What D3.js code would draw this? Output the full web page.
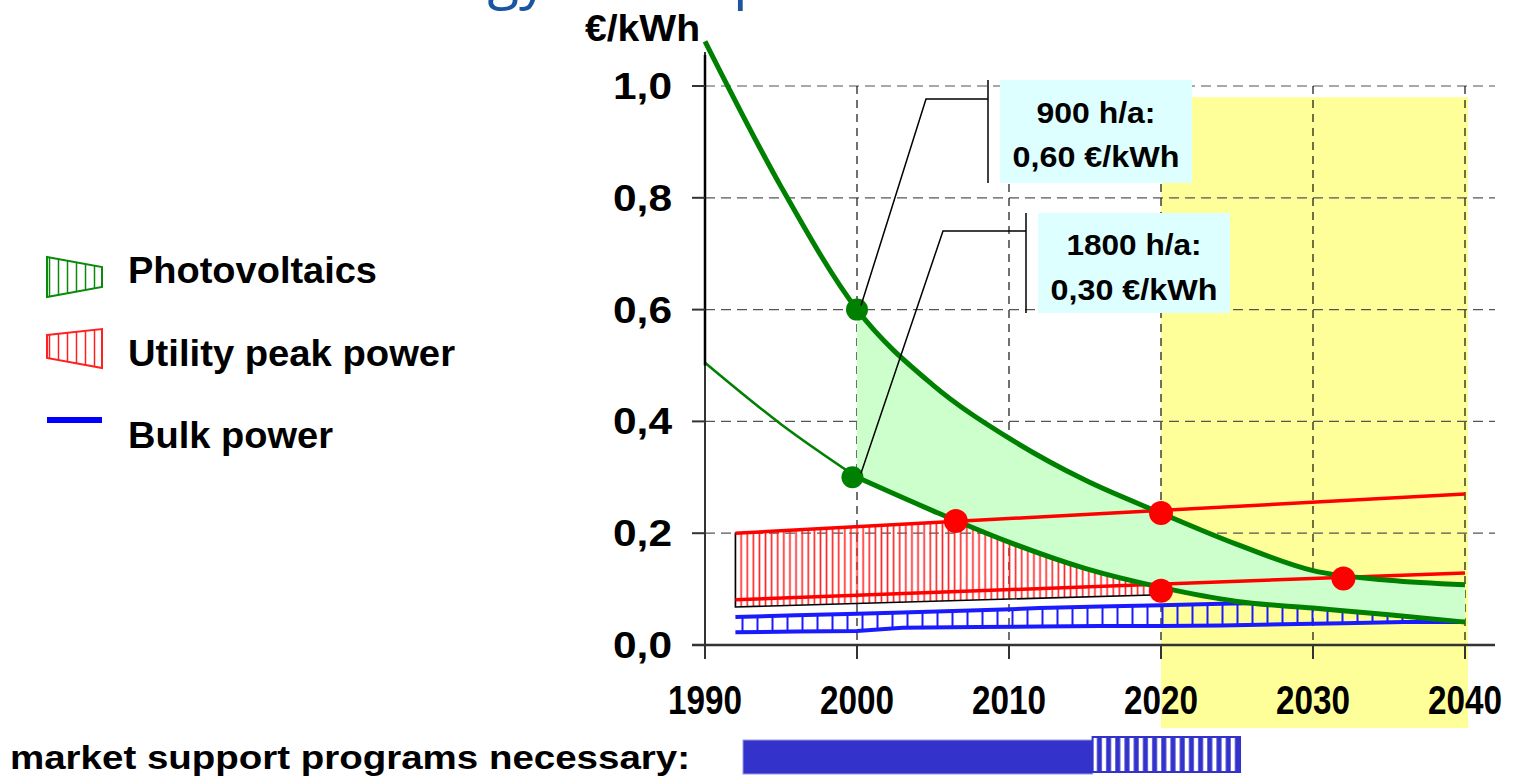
<!DOCTYPE html>
<html>
<head>
<meta charset="utf-8">
<script src="https://cdn.jsdelivr.net/npm/d3@7"></script>
<style>
  body { margin: 0; background: #fff; }
  #chart { width: 1516px; height: 777px; }
  text { font-family: "Liberation Sans", Arial, sans-serif; font-weight: bold; }
</style>
</head>
<body>
<div id="chart"></div>
<script>

/*
DATA
cost of electricity in €/kWh
*/
const years = [1990, 1995, 2000, 2005, 2010, 2015, 2020, 2025, 2030, 2035, 2040];
const pv900 = [1.08, 0.82, 0.60, 0.465, 0.37, 0.295, 0.236, 0.18, 0.133, 0.116, 0.108];
const pv1800 = [0.505, 0.395, 0.30, 0.24, 0.184, 0.137, 0.103, 0.078, 0.066, 0.054, 0.041];

const peakYears = [1992, 2040];
const peakHigh = [0.200, 0.270];
const peakLow = [0.081, 0.129];
const peakBaseYears = [1992, 2020];
const peakBase = [0.068, 0.090];

const bulkYears = [1992, 1996, 2000, 2003, 2008, 2012, 2016, 2020, 2024, 2028, 2032, 2036, 2040];
const bulkHigh = [0.050, 0.053, 0.056, 0.058, 0.062, 0.066, 0.069, 0.071, 0.074, 0.076, 0.076, 0.076, 0.076];
const bulkLow = [0.023, 0.024, 0.025, 0.031, 0.032, 0.033, 0.034, 0.034, 0.035, 0.037, 0.039, 0.041, 0.041];

const redDots = [[2006.5, 0.222], [2020, 0.236], [2020, 0.097], [2032, 0.119]];
const greenDots = [[2000, 0.60], [1999.7, 0.30]];

const yTicks = [0, 0.2, 0.4, 0.6, 0.8, 1.0];
const yTickLabels = ["0,0", "0,2", "0,4", "0,6", "0,8", "1,0"];
const xTicks = [1990, 2000, 2010, 2020, 2030, 2040];

const futureSpan = [2020, 2040.2];
const supportSolid = [1992.5, 2015.5];
const supportHatch = [2015.5, 2025.2];

const legendItems = ["Photovoltaics", "Utility peak power", "Bulk power"];
const notes = [
    { lines: ["900 h/a:", "0,60 €/kWh"], year: 2000, value: 0.60 },
    { lines: ["1800 h/a:", "0,30 €/kWh"], year: 2000, value: 0.30 }
];

/*
SVG CANVAS
*/
const width = 1516;
const height = 777;
const svg = d3.select("#chart")
    .append("svg")
    .attr("width", width)
    .attr("height", height);

const x = d3.scaleLinear().domain([1990, 2040]).range([705, 1465]);
const y = d3.scaleLinear().domain([0, 1]).range([645, 86]);

/* PATTERNS FOR THE HATCHED AREAS */
const defs = svg.append("defs");
function stripes(id, step, color, w) {
    defs.append("pattern")
        .attr("id", id)
        .attr("patternUnits", "userSpaceOnUse")
        .attr("width", step)
        .attr("height", 20)
        .append("line")
            .attr("x1", step / 2).attr("x2", step / 2)
            .attr("y1", 0).attr("y2", 20)
            .attr("stroke", color)
            .attr("stroke-width", w);
}
stripes("redHatch", 6.1, "#ff2020", 1.6);
stripes("blueHatch", 15, "#1a1aff", 2);
stripes("barHatch", 9.2, "#3333cc", 5);
stripes("legGreen", 9, "#0a8a0a", 1.5);
stripes("legRed", 9, "#ff2020", 1.5);

/* TITLE REMAINS (cut off at the top, as in the slide) */
svg.append("text")
    .attr("x", 548).attr("y", -3)
    .attr("text-anchor", "end")
    .style("font-family", "'Open Sans', sans-serif")
    .style("font-weight", "normal")
    .style("font-size", "58px")
    .attr("fill", "#1a56a0")
    .text("Energy");
svg.append("text")
    .attr("x", 733).attr("y", -3)
    .style("font-family", "'Open Sans', sans-serif")
    .style("font-weight", "normal")
    .style("font-size", "58px")
    .attr("fill", "#1a56a0")
    .text("p");

/* FUTURE PERIOD (yellow) */
svg.append("rect")
    .attr("x", x(futureSpan[0]))
    .attr("y", y(0.98))
    .attr("width", x(futureSpan[1]) - x(futureSpan[0]))
    .attr("height", 728 - y(0.98))
    .attr("fill", "#ffff99");

/* GRID */
svg.append("g")
    .selectAll("line")
    .data(yTicks.filter(d => d > 0))
    .enter()
    .append("line")
        .attr("x1", x(1990)).attr("x2", 1495)
        .attr("y1", d => y(d)).attr("y2", d => y(d))
        .attr("stroke", "#555")
        .attr("stroke-width", 1.2)
        .attr("stroke-dasharray", "10,6");

svg.append("g")
    .selectAll("line")
    .data(xTicks.filter(d => d > 1990))
    .enter()
    .append("line")
        .attr("x1", d => x(d)).attr("x2", d => x(d))
        .attr("y1", y(1)).attr("y2", y(0))
        .attr("stroke", "#111")
        .attr("stroke-width", 1.2)
        .attr("stroke-dasharray", "8,6");

/* BULK POWER */
const bulk = bulkYears.map((d, i) => ({ year: d, hi: bulkHigh[i], lo: bulkLow[i] }));
svg.append("path")
    .datum(bulk)
    .attr("fill", "url(#blueHatch)")
    .attr("d", d3.area().x(d => x(d.year)).y0(d => y(d.lo)).y1(d => y(d.hi)));
["hi", "lo"].forEach(k => {
    svg.append("path")
        .datum(bulk)
        .attr("fill", "none")
        .attr("stroke", "#1a1aff")
        .attr("stroke-width", 4)
        .attr("d", d3.line().x(d => x(d.year)).y(d => y(d[k])));
});

/* UTILITY PEAK POWER HATCH, clipped under the 1800 h/a curve */
const pvData = years.map((d, i) => ({ year: d, a: pv900[i], b: pv1800[i] }));
defs.append("clipPath")
    .attr("id", "belowPv")
    .append("path")
    .datum(pvData)
    .attr("d", d3.area().curve(d3.curveMonotoneX)
        .x(d => x(d.year)).y0(y(0)).y1(d => y(d.b)));

const hiAt = d3.scaleLinear().domain(peakYears).range(peakHigh);
const baseAt = d3.scaleLinear().domain(peakBaseYears).range(peakBase);
const peakPoly = [
    [peakBaseYears[0], hiAt(peakBaseYears[0])],
    [peakBaseYears[1], hiAt(peakBaseYears[1])],
    [peakBaseYears[1], baseAt(peakBaseYears[1])],
    [peakBaseYears[0], baseAt(peakBaseYears[0])]
];
svg.append("path")
    .datum(peakPoly)
    .attr("clip-path", "url(#belowPv)")
    .attr("fill", "url(#redHatch)")
    .attr("stroke", "#000")
    .attr("stroke-width", 1.6)
    .attr("d", d3.line().x(d => x(d[0])).y(d => y(d[1])).curve(d3.curveLinearClosed));

/* PHOTOVOLTAICS BAND after 2000 */
const pvBand = pvData.filter(d => d.year >= 2000);
svg.append("path")
    .datum(pvBand)
    .attr("fill", "#ccffcc")
    .attr("d", d3.area().curve(d3.curveMonotoneX)
        .x(d => x(d.year)).y0(d => y(d.b)).y1(d => y(d.a)));

/* RED LINES */
[peakHigh, peakLow].forEach(vals => {
    svg.append("line")
        .attr("x1", x(peakYears[0])).attr("x2", x(peakYears[1]))
        .attr("y1", y(vals[0])).attr("y2", y(vals[1]))
        .attr("stroke", "#ff0000")
        .attr("stroke-width", 3.5);
});

/* GREEN CURVES */
svg.append("path")
    .datum(pvData)
    .attr("fill", "none")
    .attr("stroke", "#008000")
    .attr("stroke-width", 5)
    .attr("d", d3.line().curve(d3.curveMonotoneX).x(d => x(d.year)).y(d => y(d.a)));
svg.append("path")
    .datum(pvData.filter(d => d.year <= 2000))
    .attr("fill", "none")
    .attr("stroke", "#008000")
    .attr("stroke-width", 2.5)
    .attr("d", d3.line().curve(d3.curveMonotoneX).x(d => x(d.year)).y(d => y(d.b)));
svg.append("path")
    .datum(pvBand)
    .attr("fill", "none")
    .attr("stroke", "#008000")
    .attr("stroke-width", 5)
    .attr("d", d3.line().curve(d3.curveMonotoneX).x(d => x(d.year)).y(d => y(d.b)));

/* DOTS */
svg.append("g")
    .selectAll("circle")
    .data(redDots)
    .enter()
    .append("circle")
        .attr("cx", d => x(d[0]))
        .attr("cy", d => y(d[1]))
        .attr("r", 12)
        .attr("fill", "#ff0000");
svg.append("g")
    .selectAll("circle")
    .data(greenDots)
    .enter()
    .append("circle")
        .attr("cx", d => x(d[0]))
        .attr("cy", d => y(d[1]))
        .attr("r", 11)
        .attr("fill", "#008000");

/* AXES */
svg.append("line")
    .attr("x1", 692).attr("x2", 1495)
    .attr("y1", y(0)).attr("y2", y(0))
    .attr("stroke", "#333").attr("stroke-width", 2.5);
svg.append("line")
    .attr("x1", x(1990)).attr("x2", x(1990))
    .attr("y1", 52).attr("y2", 657)
    .attr("stroke", "#333").attr("stroke-width", 2);
svg.append("line")
    .attr("x1", x(1990)).attr("x2", x(1990))
    .attr("y1", 55).attr("y2", y(0.5))
    .attr("stroke", "#000").attr("stroke-width", 2.5);

svg.append("g")
    .selectAll("line")
    .data(yTicks)
    .enter()
    .append("line")
        .attr("x1", 692).attr("x2", x(1990))
        .attr("y1", d => y(d)).attr("y2", d => y(d))
        .attr("stroke", "#333").attr("stroke-width", 2);
svg.append("g")
    .selectAll("text")
    .data(yTicks)
    .enter()
    .append("text")
        .attr("x", 672)
        .attr("y", d => y(d) + 13)
        .attr("text-anchor", "end")
        .attr("textLength", 59)
        .attr("lengthAdjust", "spacingAndGlyphs")
        .style("font-size", "36px")
        .text((d, i) => yTickLabels[i]);

svg.append("g")
    .selectAll("line")
    .data(xTicks)
    .enter()
    .append("line")
        .attr("x1", d => x(d)).attr("x2", d => x(d))
        .attr("y1", y(0)).attr("y2", 659)
        .attr("stroke", "#333").attr("stroke-width", 2);
svg.append("g")
    .selectAll("text")
    .data(xTicks)
    .enter()
    .append("text")
        .attr("x", d => x(d) - 37)
        .attr("y", 714)
        .attr("textLength", 74)
        .attr("lengthAdjust", "spacingAndGlyphs")
        .style("font-size", "40px")
        .text(d => d);

svg.append("text")
    .attr("x", 585).attr("y", 41)
    .attr("textLength", 115)
    .attr("lengthAdjust", "spacingAndGlyphs")
    .style("font-size", "36px")
    .text("€/kWh");

/* ANNOTATIONS */
const boxes = [
    { x: 1000, y: 80, w: 192, h: 103, lineX: 988, elbowY: 99, elbowX: 926, b1: 123, b2: 167, l1: 119, l2: 167 },
    { x: 1038, y: 213, w: 192, h: 100, lineX: 1026, elbowY: 231, elbowX: 943, b1: 255, b2: 300, l1: 135, l2: 167 }
];
notes.forEach((n, i) => {
    const b = boxes[i];
    svg.append("rect")
        .attr("x", b.x).attr("y", b.y)
        .attr("width", b.w).attr("height", b.h)
        .attr("fill", "#ddffff");
    svg.append("line")
        .attr("x1", b.lineX).attr("x2", b.lineX)
        .attr("y1", b.y).attr("y2", b.y + b.h)
        .attr("stroke", "#000").attr("stroke-width", 1.5);
    svg.append("path")
        .attr("fill", "none")
        .attr("stroke", "#000")
        .attr("stroke-width", 1.5)
        .attr("d", d3.line()([[b.lineX, b.elbowY], [b.elbowX, b.elbowY], [x(n.year) + 4, y(n.value) - 4]]));
    svg.append("text")
        .attr("x", b.x + (b.w - b.l1) / 2).attr("y", b.b1)
        .attr("textLength", b.l1)
        .attr("lengthAdjust", "spacingAndGlyphs")
        .style("font-size", "29px")
        .text(n.lines[0]);
    svg.append("text")
        .attr("x", b.x + (b.w - b.l2) / 2).attr("y", b.b2)
        .attr("textLength", b.l2)
        .attr("lengthAdjust", "spacingAndGlyphs")
        .style("font-size", "29px")
        .text(n.lines[1]);
});

/* LEGEND */
const legend = svg.append("g");
legend.append("path")
    .attr("d", "M47,257 L102,267 L102,287 L47,297 Z")
    .attr("fill", "url(#legGreen)")
    .attr("stroke", "#0a8a0a").attr("stroke-width", 2);
legend.append("path")
    .attr("d", "M47,335 L102,329 L102,368 L47,358 Z")
    .attr("fill", "url(#legRed)")
    .attr("stroke", "#ff2020").attr("stroke-width", 2);
legend.append("line")
    .attr("x1", 47).attr("x2", 102)
    .attr("y1", 420).attr("y2", 420)
    .attr("stroke", "#0000ff").attr("stroke-width", 6);
legend.selectAll("text")
    .data(legendItems)
    .enter()
    .append("text")
        .attr("x", 128)
        .attr("y", (d, i) => [283, 366, 448][i])
        .attr("textLength", (d, i) => [249, 327, 205][i])
        .attr("lengthAdjust", "spacingAndGlyphs")
        .style("font-size", "36px")
        .text(d => d);

/* MARKET SUPPORT BAR */
svg.append("text")
    .attr("x", 10).attr("y", 769)
    .attr("textLength", 680)
    .attr("lengthAdjust", "spacingAndGlyphs")
    .style("font-size", "33px")
    .text("market support programs necessary:");
svg.append("rect")
    .attr("x", x(supportSolid[0])).attr("y", 740)
    .attr("width", x(supportSolid[1]) - x(supportSolid[0]))
    .attr("height", 34)
    .attr("fill", "#3333cc")
    .attr("stroke", "#9999dd").attr("stroke-width", 1);
svg.append("rect")
    .attr("x", x(supportHatch[0])).attr("y", 737)
    .attr("width", x(supportHatch[1]) - x(supportHatch[0]))
    .attr("height", 35)
    .attr("fill", "url(#barHatch)")
    .attr("stroke", "#3333cc").attr("stroke-width", 2);

</script>
</body>
</html>
